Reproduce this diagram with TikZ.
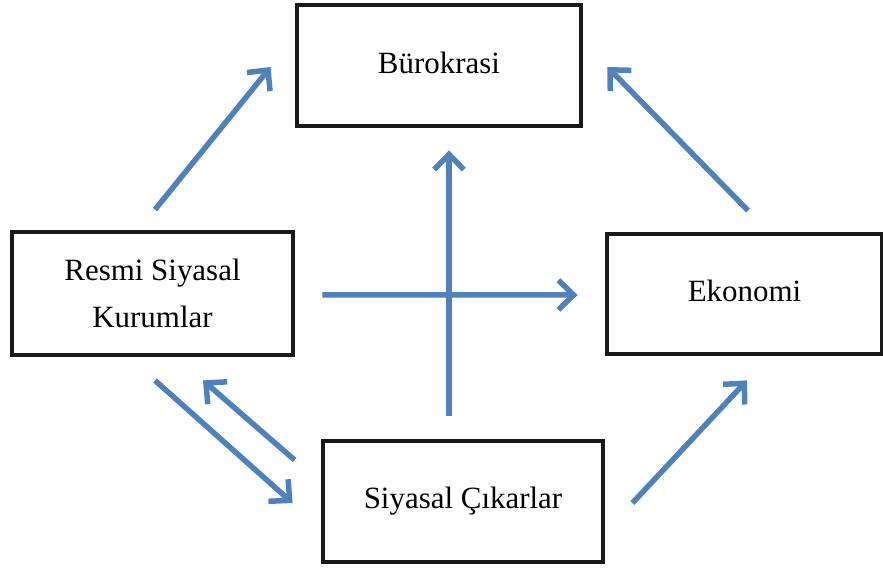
\documentclass[tikz,border=0pt]{standalone}
\usepackage{fontspec}
\setmainfont{Liberation Serif}
\usetikzlibrary{arrows.meta, positioning}
\definecolor{flowblue}{RGB}{79,129,189}
\tikzset{
	box/.style={draw=black!90, rectangle, line width=4.8*0.025cm, inner sep=0pt, align=center, font=\fontsize{22}{33}\selectfont},
	flow/.style={draw=flowblue, line width=5.5*0.025cm, -{Straight Barb[length=3.8mm, width=7.4mm]},
		preaction={draw=black!30, transform canvas={shift={(1.3pt,-1.3pt)}}}}
}
\begin{document}
\begin{tikzpicture}[x=0.025cm, y=-0.025cm]
			\useasboundingbox (0,0) rectangle (883,570);
			
			\node (bur) [box, minimum width=7.1cm, minimum height=3.025cm] at (439,65.5) {\raisebox{4pt}{Bürokrasi}};
			\node (res) [box, minimum width=7.025cm, minimum height=3.075cm] at (152.5,293.5) {Resmi Siyasal\\Kurumlar};
			\node (eko) [box, minimum width=6.875cm, minimum height=3cm] at (744.5,294) {\raisebox{4pt}{Ekonomi}};
			\node (cik) [box, minimum width=7cm, minimum height=3.025cm] at (463,501.5) {\raisebox{3pt}{Siyasal Çıkarlar}};
			
			\begin{scope}[flow]
				\draw ([shift={(2.5,-20)}]res.north) -- ([shift={(-24,1.5)}]bur.west);
				\draw ([shift={(3.5,-21)}]eko.north) -- ([shift={(24,1.5)}]bur.east);
				\draw ([shift={(27,1.5)}]cik.east) -- ([shift={(2.5,24)}]eko.south);
				\draw ([shift={(2.5,23)}]res.south) -- ([shift={(-28,1.5)}]cik.west);
				\draw ([shift={(-26,-41.5)}]cik.west) -- ([shift={(50.5,23)}]res.south);
				\draw ([shift={(27,1.5)}]res.east) -- ([shift={(-27,1)}]eko.west);
				\draw ([shift={(-14,-23)}]cik.north) -- ([shift={(10,22)}]bur.south);
			\end{scope}
\end{tikzpicture}
\end{document}
